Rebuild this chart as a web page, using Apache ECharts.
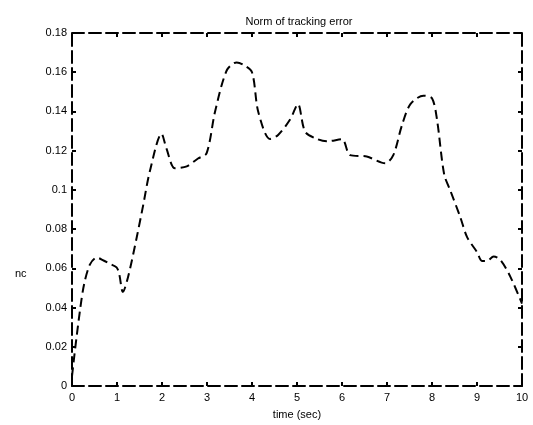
<!DOCTYPE html>
<html>
<head>
<meta charset="utf-8">
<script src="https://cdn.jsdelivr.net/npm/echarts@6/dist/echarts.min.js"></script>
<style>
  html, body { margin: 0; padding: 0; background: #fff; }
  #chart { width: 533px; height: 425px; }
</style>
</head>
<body>
<div id="chart"></div>
<script>
// time (sec) and norm of tracking error
const timeSec = [0, 0.07, 0.18, 0.27, 0.4, 0.55, 0.7, 0.84, 0.99, 1.05, 1.13, 1.25, 1.44, 1.58, 1.73, 1.99,
  2.1, 2.29, 2.55, 2.8, 2.99, 3.18, 3.44, 3.66, 3.81, 4.0, 4.14, 4.4, 4.58, 4.85, 5.02, 5.18, 5.44, 5.66,
  6.0, 6.18, 6.55, 6.96, 7.14, 7.33, 7.52, 7.81, 8.0, 8.11, 8.27, 8.41, 8.63, 8.78, 9.0, 9.11, 9.22, 9.37,
  9.52, 9.74, 10]
const errNorm = [0.005, 0.019, 0.039, 0.052, 0.062, 0.0655, 0.064, 0.0623, 0.0605, 0.057, 0.048, 0.056, 0.076,
  0.092, 0.1095, 0.1286, 0.121, 0.111, 0.112, 0.116, 0.1186, 0.14, 0.161, 0.165, 0.1638, 0.16, 0.1397, 0.126,
  0.128, 0.136, 0.1437, 0.1297, 0.126, 0.1248, 0.1258, 0.1177, 0.117, 0.1136, 0.1177, 0.1328, 0.1437, 0.148,
  0.1467, 0.136, 0.108, 0.0995, 0.086, 0.0759, 0.0683, 0.0638, 0.0638, 0.066, 0.0643, 0.0558, 0.042]

const font = 'Liberation Sans, Arial, sans-serif'
const border = { color: '#000', width: 2, type: [12, 5] }
const tick = { inside: true, length: 4, lineStyle: { color: '#000', width: 2 } }

const chart = echarts.init(document.getElementById('chart'))
chart.setOption({
  animation: false,
  title: {
    text: 'Norm of tracking error',
    left: 294,
    textAlign: 'center',
    top: 11,
    textStyle: { fontFamily: font, fontSize: 11, fontWeight: 'normal', color: '#000' }
  },
  grid: { left: 72, right: 11, top: 33, bottom: 35 },
  graphic: [{
    type: 'text',
    left: 15,
    top: 268,
    style: { text: 'nc', font: '11px ' + font, fill: '#000' }
  }],
  xAxis: [{
    type: 'value',
    min: 0,
    max: 10,
    interval: 1,
    name: 'time (sec)',
    nameLocation: 'middle',
    nameGap: 23,
    nameTextStyle: { fontFamily: font, fontSize: 11, color: '#000' },
    axisLine: { onZero: false, lineStyle: border },
    axisTick: tick,
    axisLabel: { margin: 6, fontFamily: font, fontSize: 11, color: '#000' },
    splitLine: { show: false }
  }, {
    type: 'value',
    position: 'top',
    min: 0,
    max: 10,
    interval: 1,
    axisLine: { onZero: false, lineStyle: border },
    axisTick: tick,
    axisLabel: { show: false },
    splitLine: { show: false }
  }],
  yAxis: [{
    type: 'value',
    min: 0,
    max: 0.18,
    interval: 0.02,
    axisLine: { show: true, onZero: false, lineStyle: border },
    axisTick: Object.assign({ show: true }, tick),
    axisLabel: { margin: 5, fontFamily: font, fontSize: 11, color: '#000' },
    splitLine: { show: false }
  }, {
    type: 'value',
    position: 'right',
    min: 0,
    max: 0.18,
    interval: 0.02,
    axisLine: { show: true, onZero: false, lineStyle: border },
    axisTick: Object.assign({ show: true }, tick),
    axisLabel: { show: false },
    splitLine: { show: false }
  }],
  series: [{
    type: 'line',
    data: timeSec.map((t, i) => [t, errNorm[i]]),
    smooth: 0.3,
    symbol: 'none',
    lineStyle: { color: '#000', width: 2, type: [9, 5] }
  }]
})
</script>
</body>
</html>
